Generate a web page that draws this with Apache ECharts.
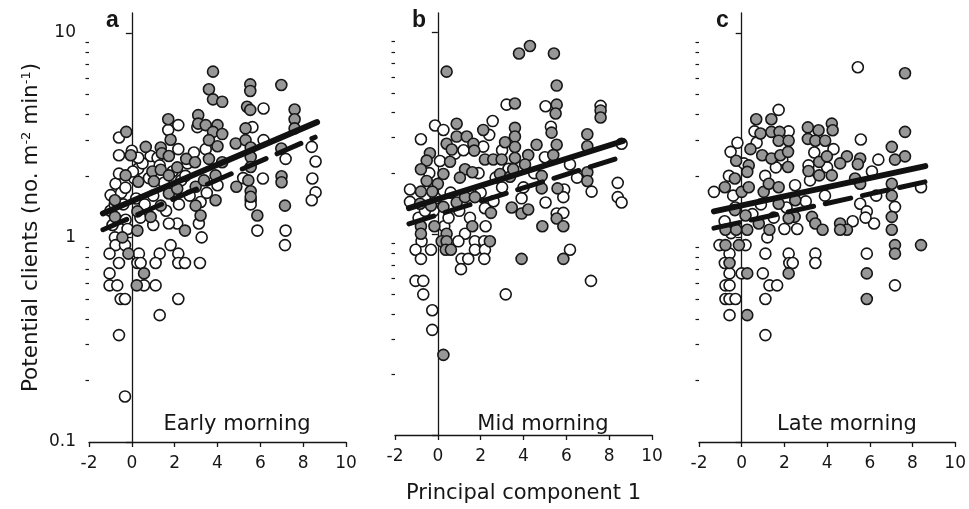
<!DOCTYPE html>
<html>
<head>
<meta charset="utf-8">
<script src="https://cdn.jsdelivr.net/npm/echarts@6/dist/echarts.min.js"></script>
<style>
  html, body { margin: 0; background: #fff; }
  #chart { width: 969px; height: 509px; }
</style>
</head>
<body>
<div id="chart"></div>
<script>
// values: [principal component 1, clients per m2 per min]
const earlyFilled = [
  [3.79,6.46],[3.6,5.3],[3.79,4.73],[4.22,4.6],[5.53,5.6],[5.53,5.2],[6.98,5.56],[5.38,4.35],[5.53,4.2],
  [7.6,4.22],[7.6,3.78],[7.6,3.41],[3.1,3.96],[3.1,3.6],[3.45,3.54],[4.0,3.54],[3.79,3.28],[4.22,3.2],
  [5.31,3.41],[1.7,3.78],[1.81,3.0],[-0.26,3.28],[3.6,2.99],[4.0,2.79],[4.85,2.88],[5.31,2.99],[5.55,2.75],
  [6.98,2.72],[0.65,2.77],[-0.05,2.52],[1.35,2.75],[1.4,2.58],[1.73,2.5],[2.12,2.2],[2.54,2.42],[2.95,2.33],
  [3.6,2.42],[4.22,2.33],[5.55,2.47],[5.55,2.21],[6.99,1.99],[6.99,1.86],[7.15,1.43],[0.96,2.1],[1.35,2.14],
  [1.73,2.01],[-0.29,2.01],[0.3,1.87],[1.03,1.88],[2.98,1.77],[3.91,2.01],[3.37,1.9],[4.88,1.77],[5.44,1.9],
  [5.55,1.68],[5.55,1.58],[5.86,1.28],[3.91,1.52],[2.98,1.43],[3.21,1.28],[2.48,1.08],[1.35,1.43],[1.73,1.64],
  [2.12,1.73],[-0.79,1.52],[-0.79,1.26],[0.26,1.34],[0.88,1.26],[0.26,1.08],[-0.44,1.0],[-0.16,0.833],
  [0.57,0.667],[0.23,0.583]
];
const earlyOpen = [
  [6.15,4.27],[3.06,3.46],[5.63,3.46],[2.17,3.54],[1.7,3.35],[-0.6,3.08],[3.45,2.7],[6.15,2.99],[7.18,2.42],
  [8.4,2.77],[8.58,2.35],[8.43,1.94],[8.58,1.66],[8.4,1.52],[0.88,2.5],[-0.6,2.52],[0,2.65],[2.17,2.7],
  [6.12,1.94],[0.3,2.17],[-0.76,1.83],[5.55,1.52],[5.55,1.45],[5.86,1.08],[7.18,1.08],[3.21,1.49],[3.13,1.17],
  [3.26,1.0],[2.12,1.17],[1.73,1.17],[-0.99,1.61],[-0.29,1.22],[-0.79,1.0],[-0.76,0.917],[-0.32,0.917],
  [1.81,0.917],[7.15,0.917],[-1.04,0.833],[0.33,0.833],[1.3,0.833],[2.17,0.833],[-0.6,0.75],[0.26,0.75],
  [0.41,0.75],[1.11,0.75],[2.17,0.75],[2.48,0.75],[3.18,0.75],[-1.04,0.667],[-1.04,0.583],[-0.68,0.583],
  [0.57,0.583],[1.11,0.583],[-0.52,0.5],[-0.32,0.5],[2.17,0.5],[1.3,0.417],[-0.6,0.333],[-0.32,0.167],
  [-1.0,1.35],[-0.8,1.45],[-0.5,1.65],[-0.3,1.75],[0.1,1.95],[0.5,2.3],[0.8,1.95],[1.0,1.6],[1.5,1.85],
  [1.9,2.1],[2.3,1.9],[2.6,2.3],[2.9,2.6],[-0.6,2.05],[0.3,2.45],[1.2,2.45],[0.2,1.55],[0.6,1.45],[1.6,1.35],
  [2.2,1.45],[2.7,1.6],[-0.9,1.15],[-0.2,1.1],[3.5,1.65],[4.0,1.8],[5.2,1.95],[0.05,2.1],[1.3,2.25],[2.5,2.0],
  [-0.4,1.45],[0.4,1.25],[1.0,1.15]
];
const midFilled = [
  [0.41,6.39],[3.79,7.86],[4.3,8.57],[5.42,7.86],[5.55,5.45],[3.6,4.44],[5.55,4.38],[5.5,3.96],[7.6,4.1],
  [7.6,3.78],[0.88,3.52],[0.88,3.04],[2.12,3.28],[1.35,3.04],[3.6,3.36],[3.6,3.04],[3.6,2.7],[3.14,2.85],
  [5.31,3.18],[5.55,2.77],[5.39,2.46],[4.61,2.77],[4.22,2.46],[6.98,3.12],[6.98,2.72],[-0.37,2.51],[-0.52,2.31],
  [-0.79,2.09],[0.41,2.8],[0.65,2.62],[0.57,2.28],[0.26,1.98],[1.66,2.8],[1.7,2.59],[2.2,2.34],[2.59,2.34],
  [2.98,2.34],[3.6,2.38],[4.07,2.21],[1.27,2.09],[1.61,2.02],[1.03,1.9],[-0.52,1.83],[0,1.77],[2.9,1.98],
  [3.37,1.92],[3.52,2.09],[4.85,1.94],[4.85,1.68],[5.59,1.68],[6.98,2.02],[6.98,1.83],[-0.79,1.62],[-0.26,1.62],
  [-0.83,1.41],[-0.32,1.38],[0.26,1.36],[0.88,1.43],[1.27,1.52],[1.73,1.52],[2.48,1.27],[3.45,1.35],[3.91,1.26],
  [4.22,1.32],[5.55,1.19],[5.86,1.09],[4.88,1.09],[-0.79,1.09],[-0.16,1.09],[1.61,1.09],[0.41,1.0],[2.43,0.917],
  [0.18,0.917],[-0.79,1.0],[0.41,0.917],[0.37,0.833],[0.61,0.833],[3.91,0.75],[5.86,0.75],[0.26,0.25]
];
const midOpen = [
  [3.21,4.38],[5.03,4.3],[7.6,4.32],[-0.13,3.45],[0.26,3.28],[-0.79,2.95],[2.56,3.63],[5.28,3.4],[8.58,2.8],
  [8.4,1.79],[8.4,1.52],[8.58,1.43],[2.12,2.71],[5.9,1.66],[6.17,2.21],[7.18,1.62],[-1.3,1.66],[-1.3,1.44],
  [2.2,1.34],[3.91,1.5],[5.03,1.43],[5.55,1.26],[5.86,1.27],[5.86,1.52],[0.3,1.09],[2.23,1.09],[1.27,1.0],
  [-0.76,0.917],[0.96,0.917],[1.73,0.917],[2.17,0.917],[-1.04,0.833],[-0.32,0.833],[1.73,0.833],[2.2,0.833],
  [6.17,0.833],[-0.79,0.75],[1.11,0.75],[1.42,0.75],[2.17,0.75],[1.08,0.667],[-1.04,0.583],[-0.68,0.583],
  [7.15,0.583],[-0.68,0.5],[3.17,0.5],[-0.26,0.417],[-0.26,0.333],
  [0.5,1.2],[1.0,1.3],[1.5,1.2],[2.0,1.6],[2.6,1.45],[3.0,1.7],[-0.2,1.3],[0.8,2.5],[1.9,2.0],[2.4,3.1],
  [3.3,2.1],[4.5,2.0],[6.5,1.9],[-0.9,1.2],[0.1,2.3],[-0.4,2.0],[1.2,2.6],[3.0,2.6],[4.0,1.7],[5.0,2.4],
  [-0.6,1.3],[0.6,1.6],[2.7,1.9],[-0.1,1.5]
];
const lateFilled = [
  [7.65,6.34],[0.68,3.78],[1.39,3.78],[0.88,3.22],[1.39,3.28],[1.77,3.28],[1.73,2.97],[2.2,2.97],[3.1,3.45],
  [3.6,3.34],[4.22,3.6],[4.26,3.34],[3.1,3.03],[3.45,2.97],[3.91,2.97],[7.65,3.28],[7.03,2.77],[-0.26,2.37],
  [0.41,2.7],[0.33,2.25],[0.96,2.52],[1.39,2.43],[1.81,2.52],[2.17,2.62],[0.26,2.09],[-0.32,1.94],[-0.79,1.76],
  [0,1.67],[0.33,1.76],[1.03,1.67],[1.27,1.83],[1.73,1.76],[2.17,2.21],[3.63,2.34],[3.99,2.49],[4.93,2.49],
  [5.55,2.43],[5.44,2.28],[4.61,2.3],[3.13,2.11],[3.63,2.01],[4.22,2.01],[5.31,1.94],[5.55,1.83],[7.03,1.83],
  [7.03,1.6],[7.65,2.49],[7.18,2.4],[2.51,1.52],[1.73,1.46],[2.48,1.26],[2.2,1.24],[3.29,1.26],[3.45,1.17],
  [3.79,1.09],[4.61,1.17],[4.93,1.09],[4.61,1.09],[7.03,1.26],[7.03,1.09],[-0.32,1.36],[0.18,1.28],[0.8,1.17],
  [1.3,1.09],[-0.76,1.09],[-0.26,1.09],[0.26,1.09],[-0.76,0.917],[-0.13,0.917],[7.18,0.917],[8.4,0.917],
  [7.18,0.833],[-0.57,0.75],[0.26,0.667],[2.2,0.667],[5.86,0.667],[5.86,0.5],[0.26,0.417]
];
const lateOpen = [
  [5.44,6.79],[1.73,4.2],[5.58,3.01],[-0.52,2.62],[-1.3,1.67],[3.13,2.25],[8.4,1.76],[5.55,1.46],[5.86,1.34],
  [6.2,1.17],[7.18,1.41],[-1.04,0.917],[0.18,0.917],[-0.57,0.833],[1.11,0.833],[2.2,0.833],[3.45,0.833],
  [5.86,0.833],[-0.79,0.75],[2.23,0.75],[2.39,0.75],[3.45,0.75],[-0.57,0.667],[0,0.667],[0.99,0.667],
  [-0.76,0.583],[-0.57,0.583],[1.3,0.583],[1.66,0.583],[7.18,0.583],[-0.76,0.5],[-0.57,0.5],[-0.29,0.5],
  [1.11,0.5],[-0.57,0.417],[1.11,0.333],
  [-0.6,2.0],[-0.3,1.4],[0.1,2.3],[0.5,1.3],[0.7,2.9],[1.1,2.0],[1.5,1.25],[1.9,2.4],[2.1,1.4],[2.5,1.8],
  [3.0,1.5],[3.2,1.9],[3.9,1.6],[4.3,2.7],[5.2,1.2],[5.8,1.25],[6.3,1.6],[-0.5,1.05],[-0.8,1.2],[2.6,1.1],
  [6.1,2.1],[-0.2,2.9],[0.6,3.3],[1.6,2.2],[2.2,3.3],[3.4,2.6],[4.0,2.2],[-0.4,1.6],[0.9,1.45],[1.2,1.0],
  [2.0,1.1],[6.4,2.4]
];
// fitted lines, end points
const earlySolid = [[-1.35,1.31],[8.65,3.66]];
const earlyDashed = [[-1.35,1.09],[8.56,3.09]];
const midSolid = [[-1.35,1.34],[8.65,2.89]];
const midDashed = [[-1.35,1.12],[8.6,2.41]];
const lateSolid = [[-1.3,1.34],[8.6,2.23]];
const lateDashed = [[-1.3,1.11],[8.6,1.87]];

const xTicks = [-2, 0, 2, 4, 6, 8, 10];
const yMajor = [0.1, 1, 10];
const yMinor = [0.2,0.3,0.4,0.5,0.6,0.7,0.8,0.9,2,3,4,5,6,7,8,9];

const panels = [
  { letter: 'a', title: 'Early morning', open: earlyOpen, filled: earlyFilled, solid: earlySolid, dashed: earlyDashed },
  { letter: 'b', title: 'Mid morning', open: midOpen, filled: midFilled, solid: midSolid, dashed: midDashed },
  { letter: 'c', title: 'Late morning', open: lateOpen, filled: lateFilled, solid: lateSolid, dashed: lateDashed }
];

const lefts = [89, 395, 699];
const plotW = 257, plotTop = 13, plotH = 429;
const ink = '#161616';
const font = 'DejaVu Sans';

const grid = [], xAxis = [], yAxis = [], series = [], graphic = [];

panels.forEach((p, i) => {
  grid.push({ left: lefts[i], top: plotTop, width: plotW, height: plotH });
  xAxis.push({
    type: 'value', gridIndex: i, min: -2, max: 10, interval: 2,
    axisLine: { lineStyle: { color: ink, width: 1.3 } },
    axisTick: { length: 5, lineStyle: { color: ink, width: 1.3 } },
    axisLabel: { fontSize: 17, fontFamily: font, color: ink, margin: 13, customValues: xTicks },
    splitLine: { show: false },
    name: i === 1 ? 'Principal component 1' : '',
    nameLocation: 'middle', nameGap: 48,
    nameTextStyle: { fontSize: 21, fontFamily: font, color: ink }
  });
  // major ticks + labels
  yAxis.push({
    type: 'log', gridIndex: i, min: 0.1, max: 12.5, position: 'left',
    axisLine: { show: true, lineStyle: { color: ink, width: 1.3 } },
    axisTick: { length: 6, customValues: yMajor, lineStyle: { color: ink, width: 1.3 } },
    axisLabel: {
      show: i === 0, customValues: yMajor, fontSize: 17, fontFamily: font, color: ink, margin: 13,
      formatter: v => String(+v.toFixed(1))
    },
    splitLine: { show: false },
    name: i === 0 ? '{t|Potential clients (no. m}{s|-2}{t| min}{s|-1}{t|)}' : '',
    nameLocation: 'middle', nameGap: 47, nameRotate: 90,
    nameTextStyle: {
      rich: {
        t: { fontSize: 21.5, fontFamily: font, color: ink },
        s: { fontSize: 13, fontFamily: font, color: ink, verticalAlign: 'top' }
      }
    }
  });
  // minor ticks
  yAxis.push({
    type: 'log', gridIndex: i, min: 0.1, max: 12.5, position: 'left',
    axisLine: { show: false },
    axisTick: { length: 3.5, customValues: yMinor, lineStyle: { color: ink, width: 1.2 } },
    axisLabel: { show: false },
    splitLine: { show: false }
  });

  const yi = i * 2;
  const dot = {
    type: 'scatter', xAxisIndex: i, yAxisIndex: yi, symbol: 'circle', symbolSize: 11,
    z: 2
  };
  series.push(Object.assign({}, dot, {
    data: p.open, itemStyle: { color: '#ffffff', borderColor: ink, borderWidth: 1.6, opacity: 1 }
  }));
  series.push(Object.assign({}, dot, {
    data: p.filled, itemStyle: { color: '#979797', borderColor: ink, borderWidth: 1.6, opacity: 1 }
  }));
  series.push({
    type: 'line', xAxisIndex: i, yAxisIndex: yi, data: p.solid, symbol: 'none', z: 4,
    lineStyle: { color: '#111', width: 6, cap: 'round' }
  });
  series.push({
    type: 'line', xAxisIndex: i, yAxisIndex: yi, data: p.dashed, symbol: 'none', z: 4,
    lineStyle: { color: '#111', width: 5, type: [26, 12], cap: 'round' }
  });

  graphic.push({
    type: 'text', x: lefts[i] + 17, y: 21,
    style: { text: p.letter, font: 'bold 23px "Liberation Sans", Arial', fill: ink, align: 'left', verticalAlign: 'middle' }
  });
  graphic.push({
    type: 'text', x: lefts[i] + 148, y: 425,
    style: { text: p.title, font: '21px "DejaVu Sans"', fill: ink, align: 'center', verticalAlign: 'middle' }
  });
});

const chart = echarts.init(document.getElementById('chart'), null, { renderer: 'canvas' });
chart.setOption({
  animation: false,
  backgroundColor: '#fff',
  grid, xAxis, yAxis, series, graphic
});
</script>
</body>
</html>
